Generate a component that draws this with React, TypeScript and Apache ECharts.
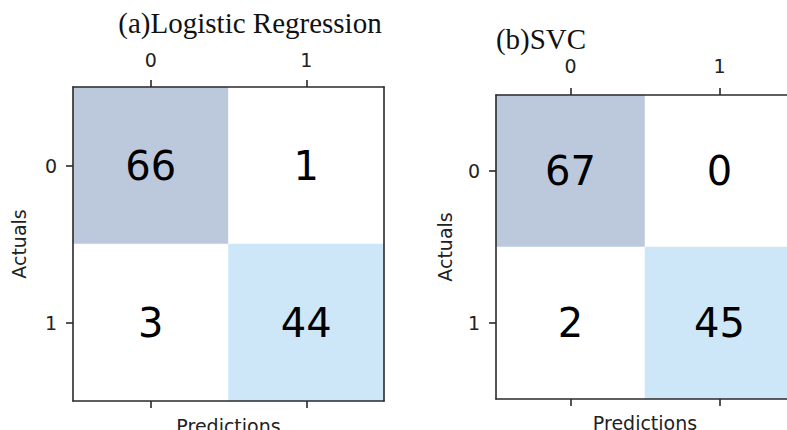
import React, { useEffect, useRef } from "react";
import * as echarts from "echarts";

const classLabels = ["0", "1"];
const lrMatrix = [
  [66, 1],
  [3, 44],
];
const svcMatrix = [
  [67, 0],
  [2, 45],
];
const panelTitles = ["(a)Logistic Regression", "(b)SVC"];
const xAxisName = "Predictions";
const yAxisName = "Actuals";

const matrices = [lrMatrix, svcMatrix];

const grids = [
  { left: 73, top: 87, width: 311, height: 314 },
  { left: 496, top: 95, width: 298, height: 304 },
];

const titlePos = [
  { x: 250, y: 23 },
  { x: 541, y: 38.5 },
];

const tickFont = { fontFamily: "DejaVu Sans", fontSize: 19, color: "#222" };
const lineStyle = { color: "#2a2a2a", width: 1.6 };

export default function App() {
  const ref = useRef<HTMLDivElement>(null);
  useEffect(() => {
    if (!ref.current) return;
    const chart = echarts.init(ref.current, null, { renderer: "svg" });
    const xAxes: any[] = [];
    const yAxes: any[] = [];
    const series: any[] = [];
    matrices.forEach((m, gi) => {
      const topIdx = xAxes.length;
      xAxes.push({
        type: "category",
        gridIndex: gi,
        data: classLabels,
        position: "top",
        axisLine: { show: true, lineStyle },
        axisTick: { show: true, alignWithLabel: true, length: 7, lineStyle },
        axisLabel: { ...tickFont, margin: gi === 0 ? 18 : 20 },
        splitLine: { show: false },
        z: 10,
      });
      xAxes.push({
        type: "category",
        gridIndex: gi,
        data: classLabels,
        position: "bottom",
        name: xAxisName,
        nameLocation: "middle",
        nameGap: gi === 0 ? 15 : 14,
        nameTextStyle: { fontFamily: "DejaVu Sans", fontSize: 19, color: "#222", verticalAlign: "top" },
        axisLine: { show: true, lineStyle },
        axisTick: { show: true, alignWithLabel: true, length: 7, lineStyle },
        axisLabel: { show: false },
        splitLine: { show: false },
        z: 10,
      });
      const leftIdx = yAxes.length;
      yAxes.push({
        type: "category",
        gridIndex: gi,
        data: classLabels,
        inverse: true,
        position: "left",
        name: yAxisName,
        nameLocation: "middle",
        nameGap: gi === 0 ? 45 : 42,
        nameRotate: 90,
        nameTextStyle: { fontFamily: "DejaVu Sans", fontSize: 19, color: "#222" },
        axisLine: { show: true, lineStyle },
        axisTick: { show: true, alignWithLabel: true, length: 7, lineStyle },
        axisLabel: { ...tickFont, margin: 16 },
        splitLine: { show: false },
        z: 10,
      });
      yAxes.push({
        type: "category",
        gridIndex: gi,
        data: classLabels,
        inverse: true,
        position: "right",
        axisLine: { show: true, lineStyle },
        axisTick: { show: false },
        axisLabel: { show: false },
        splitLine: { show: false },
        z: 10,
      });
      const data: number[][] = [];
      m.forEach((row, r) =>
        row.forEach((v, c) => {
          data.push([c, r, v]);
        })
      );
      series.push({
        type: "heatmap",
        xAxisIndex: topIdx,
        yAxisIndex: leftIdx,
        data,
        label: {
          show: true,
          formatter: (p: any) => String(p.value[2]),
          fontFamily: "DejaVu Sans",
          fontSize: 40,
          color: "#000",
        },
        itemStyle: { borderWidth: 0 },
        emphasis: { disabled: true },
      });
    });

    chart.setOption({
      animation: false,
      backgroundColor: "#fff",
      grid: grids.map((g) => ({ ...g, containLabel: false, outerBoundsMode: "none" })),
      xAxis: xAxes,
      yAxis: yAxes,
      visualMap: {
        type: "piecewise",
        show: false,
        dimension: 2,
        seriesIndex: [0, 1],
        pieces: [
          { gt: 60, color: "#BCC9DD" },
          { gt: 30, lte: 60, color: "#CDE6F8" },
          { lte: 30, color: "#FFFFFF" },
        ],
      },
      series,
      graphic: panelTitles.map((t, i) => ({
        type: "text",
        x: titlePos[i].x,
        y: titlePos[i].y,
        style: {
          text: t,
          font: "29px 'Liberation Serif', 'Times New Roman', serif",
          lineHeight: 22,
          fill: "#111",
          textAlign: "center",
          textVerticalAlign: "middle",
        },
      })),
    });
    return () => chart.dispose();
  }, []);
  return (
    <div
      ref={ref}
      style={{ position: "absolute", left: 0, top: 0, width: 787, height: 430 }}
    />
  );
}
